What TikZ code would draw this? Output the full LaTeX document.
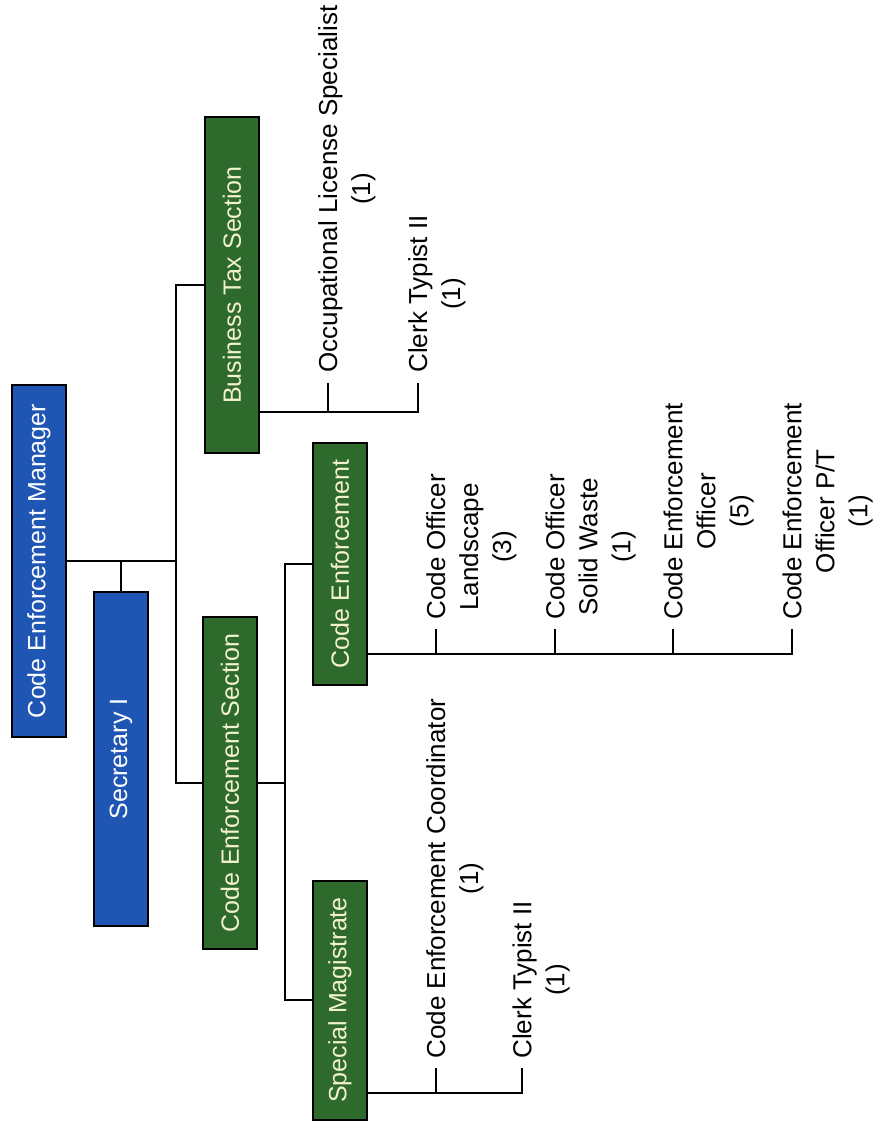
\documentclass[tikz,border=0pt]{standalone}
\usepackage{fontspec}
\setmainfont{Liberation Sans}
\usepackage{tikz}
\usetikzlibrary{calc}
\definecolor{mgrblue}{HTML}{1F56B3}
\definecolor{secgreen}{HTML}{2D6A2C}
\definecolor{boxtext}{HTML}{F3F1CF}
\tikzset{
  orgBox/.style={draw=black, line width=1pt, rotate=90, minimum height=27pt, inner sep=0pt, font=\fontsize{12.5}{15}\selectfont},
  blueBox/.style={orgBox, fill=mgrblue, text=white},
  greenBox/.style={orgBox, fill=secgreen, text=boxtext},
  jobLabel/.style={rotate=90, anchor=north west, align=center, inner sep=0pt, font=\fontsize{13}{16.5}\selectfont},
  orgLine/.style={line width=1pt}
}

\begin{document}
\begin{tikzpicture}[x=0.5pt,y=-0.5pt]
  \useasboundingbox (0,0) rectangle (875,1128);

  % boxes
  \node[blueBox, minimum width=176pt] (mgr) at (39,561) {Code Enforcement Manager};
  \node[blueBox, minimum width=167pt] (sec) at (121,759) {Secretary I};
  \node[greenBox, minimum width=168pt] (bts) at (232,285) {Business Tax Section};
  \node[greenBox, minimum width=166pt] (ces) at (230,783) {Code Enforcement Section};
  \node[greenBox, minimum width=121pt] (ce) at (340,564) {Code Enforcement};
  \node[greenBox, minimum width=119.5pt] (sm) at (340,1000) {Special Magistrate};

  % upper tree
  \coordinate (jA) at (176,561);
  \coordinate (jB) at (285,783);
  \draw[orgLine] (mgr.south) -- (jA);
  \draw[orgLine] (sec.east) -- (sec.east |- mgr.south);
  \draw[orgLine] (bts.north) -| (jA) |- (ces.north);
  \draw[orgLine] (ces.south) -- (jB);
  \draw[orgLine] (ce.north) -| (jB) |- (sm.north);

  % business tax staff
  \coordinate (bOcc) at (328,412);
  \coordinate (tOcc) at (328,383);
  \coordinate (tClkA) at (418,383);
  \node[jobLabel] (occ) at (318,373) {Occupational License Specialist\\(1)};
  \node[jobLabel] (clkA) at (408,373) {Clerk Typist II\\(1)};
  \draw[orgLine] (bts.south |- bOcc) -| (tClkA);
  \draw[orgLine] (bOcc) -- (tOcc);

  % code enforcement staff
  \coordinate (bLand) at (436,654);
  \coordinate (bWaste) at (555,654);
  \coordinate (bOff) at (673,654);
  \coordinate (tLand) at (436,629);
  \coordinate (tWaste) at (555,629);
  \coordinate (tOff) at (673,629);
  \coordinate (tPart) at (792,629);
  \node[jobLabel] (land) at (426,620) {Code Officer\\Landscape\\(3)};
  \node[jobLabel] (waste) at (545,620) {Code Officer\\Solid Waste\\(1)};
  \node[jobLabel] (off) at (663,620) {Code Enforcement\\Officer\\(5)};
  \node[jobLabel] (part) at (782,620) {Code Enforcement\\Officer P/T\\(1)};
  \draw[orgLine] (ce.south |- bLand) -| (tPart);
  \draw[orgLine] (bLand) -- (tLand);
  \draw[orgLine] (bWaste) -- (tWaste);
  \draw[orgLine] (bOff) -- (tOff);

  % special magistrate staff
  \coordinate (bCoord) at (436,1093);
  \coordinate (tCoord) at (436,1068);
  \coordinate (tClkB) at (522,1068);
  \node[jobLabel] (coord) at (426,1059) {Code Enforcement Coordinator\\(1)};
  \node[jobLabel] (clkB) at (512,1059) {Clerk Typist II\\(1)};
  \draw[orgLine] (sm.south |- bCoord) -| (tClkB);
  \draw[orgLine] (bCoord) -- (tCoord);
\end{tikzpicture}
\end{document}
